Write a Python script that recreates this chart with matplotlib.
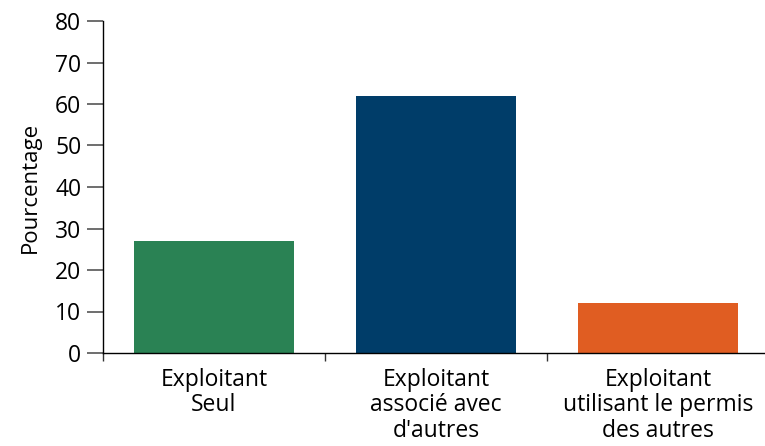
import matplotlib
matplotlib.use("Agg")
import matplotlib.pyplot as plt

categories = ["Exploitant\nSeul", "Exploitant\nassocié avec\nd'autres", "Exploitant\nutilisant le permis\ndes autres"]
values = [27, 62, 12]
colors = ["#2a8254", "#003d69", "#e05d22"]
yticks = [0, 10, 20, 30, 40, 50, 60, 70, 80]

plt.rcParams['font.family'] = ['Open Sans', 'DejaVu Sans']

fig = plt.figure(figsize=(7.65, 4.46), dpi=100)
ax = fig.add_axes([103/765, 93/446, 666/765, 332/446])
x = list(range(len(categories)))
ax.bar(x, values, width=0.72, color=colors)
ax.set_xlim(-0.5, 2.5)
ax.set_ylim(0, 80)
ax.set_yticks(yticks)
ax.set_yticklabels([str(t) for t in yticks], fontsize=16.5)
ax.set_xticks(x)
ax.set_xticklabels(categories, fontsize=16.5, linespacing=1.1, va='top')
ax.set_xticks([-0.5, 0.5, 1.5, 2.5], minor=True)
ax.tick_params(axis='x', which='major', length=0, pad=10.5)
ax.tick_params(axis='x', which='minor', length=6, width=1, color='#333333')
ax.tick_params(axis='y', length=11.5, width=1.2, color='#555555', pad=4)
ax.set_ylabel("Pourcentage", fontsize=16, labelpad=10)
for s in ['top', 'right']:
    ax.spines[s].set_visible(False)
ax.spines['left'].set_linewidth(1)
ax.spines['bottom'].set_linewidth(1)
fig.savefig("out.png", dpi=100)
